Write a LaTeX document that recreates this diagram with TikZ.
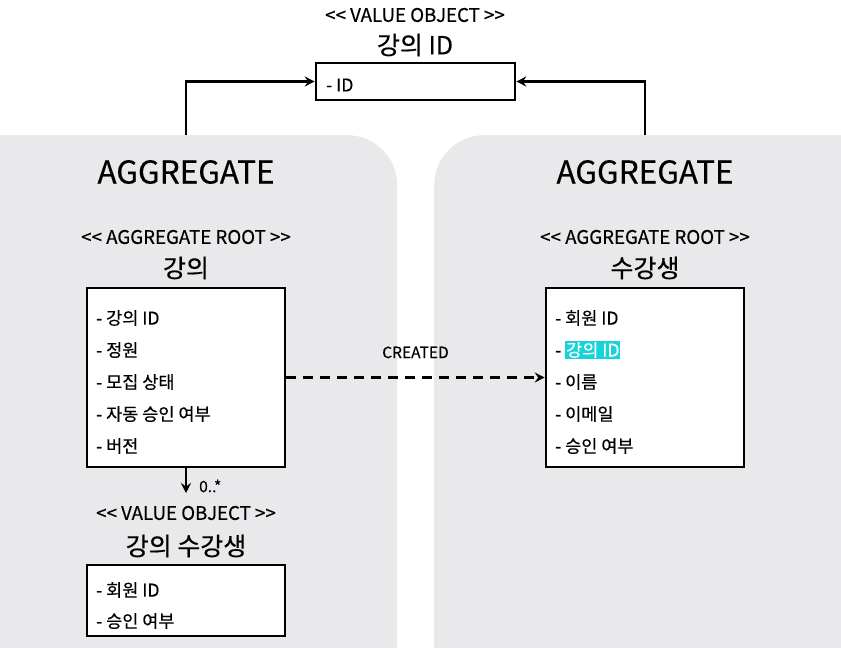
\documentclass[tikz,border=0pt]{standalone}
\usepackage{fontspec}
\setmainfont{Noto Sans CJK KR}[Ligatures=TeXOff,FakeBold=0.4]
\usetikzlibrary{arrows.meta,positioning,calc}
\definecolor{aggfill}{RGB}{233,233,236}
\definecolor{hilite}{RGB}{24,212,218}
\tikzset{
  classbox/.style={draw=black,line width=2.6pt,fill=white,inner sep=0pt},
  aggregate/.style={fill=aggfill,rounded corners=50pt,inner sep=0pt,anchor=north west},
  item/.style={anchor=west,font=\fontsize{17.5}{19}\selectfont,inner sep=1pt},
  assoc/.style={-{Stealth[length=10pt,width=10pt,inset=3.5pt]},line width=2.2pt}
}

\begin{document}
\begin{tikzpicture}[
  x=1pt,y=-1pt,
  stereo/.style={font=\fontsize{18.7}{21}\selectfont},
  classname/.style={font=\fontsize{25}{28}\selectfont},
  aggtitle/.style={font=\fontsize{31.5}{35}\selectfont},
  smalllabel/.style={font=\fontsize{15.5}{17}\selectfont,inner sep=1pt}
]
\useasboundingbox (0,0) rectangle (841,648);
\fill[white] (0,0) rectangle (841,648);

% the two aggregates
\begin{scope}
  \clip (0,0) rectangle (841,648);
  \node[aggregate,minimum width=457pt,minimum height=600pt] (aggL) at (-60,135) {};
  \node[aggregate,minimum width=466pt,minimum height=600pt] (aggR) at (434,135) {};
\end{scope}

% value object on top
\node[stereo] (voStereo) at (415,15) {<< VALUE OBJECT >>};
\node[classname] (voName) at (415,45) {강의 ID};
\node[classbox,minimum width=199pt,minimum height=37pt] (voId) at (415.5,81.5) {};
\node[item] (voIdA) at (325,85) {- ID};

% left aggregate
\node[aggtitle] (titleL) at (186,172) {AGGREGATE};
\node[stereo] (rootStereoL) at (186,237) {<< AGGREGATE ROOT >>};
\node[classname] (lectureName) at (186,268) {강의};
\node[classbox,minimum width=198pt,minimum height=179pt] (lecture) at (186,377.5) {};
\node[item] (lectureA) at (95,318) {- 강의 ID};
\node[item] (lectureB) at (95,350) {- 정원};
\node[item] (lectureC) at (95,382) {- 모집 상태};
\node[item] (lectureD) at (95,414) {- 자동 승인 여부};
\node[item] (lectureE) at (95,446) {- 버전};

\coordinate (multEnd) at (186,493);
\node[smalllabel,anchor=west] (mult) at (198,486) {0..*};

\node[stereo] (enrollStereo) at (186,513) {<< VALUE OBJECT >>};
\node[classname] (enrollName) at (186,546) {강의 수강생};
\node[classbox,minimum width=198pt,minimum height=71pt] (enroll) at (186,600.5) {};
\node[item] (enrollA) at (95,590) {- 회원 ID};
\node[item] (enrollB) at (95,621) {- 승인 여부};

% right aggregate
\node[aggtitle] (titleR) at (645,172) {AGGREGATE};
\node[stereo] (rootStereoR) at (645,237) {<< AGGREGATE ROOT >>};
\node[classname] (studentName) at (645,268) {수강생};
\node[classbox,minimum width=198pt,minimum height=179pt] (student) at (645,377.5) {};
\node[item] (studentA) at (554,318) {- 회원 ID};
\node[item] (studentB) at (554,350)
  {- {\setlength\fboxsep{1pt}\colorbox{hilite}{\textcolor{white}{강의 ID}}}};
\node[item] (studentC) at (554,382) {- 이름};
\node[item] (studentD) at (554,414) {- 이메일};
\node[item] (studentE) at (554,446) {- 승인 여부};

% connectors
\draw[assoc] (aggL.north -| titleL) |- (voId.west);
\draw[assoc] (aggR.north -| titleR) |- (voId.east);
\draw[assoc] (lecture.south) -- (multEnd);
\draw[assoc,dash pattern=on 10pt off 7pt,line width=2.4pt] (lecture.east) -- (student.west)
  node[smalllabel,midway,above=17pt] (created) {CREATED};

\end{tikzpicture}
\end{document}
